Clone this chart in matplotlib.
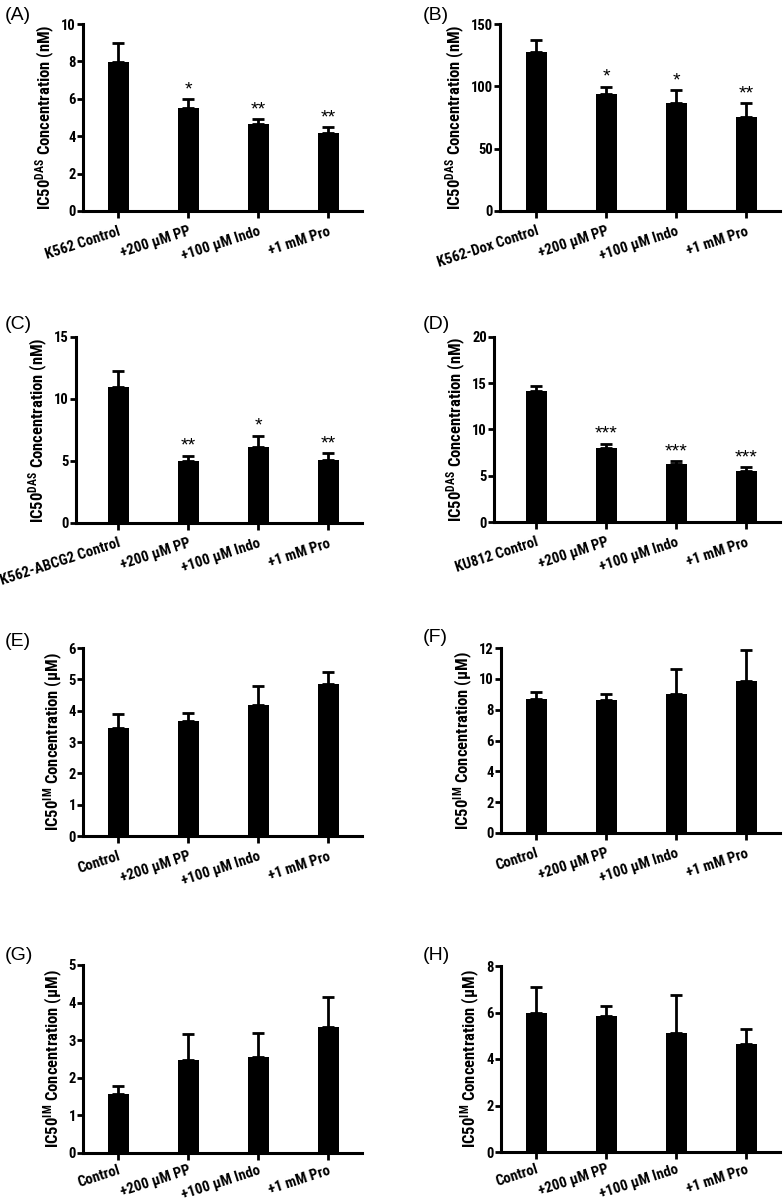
import matplotlib
matplotlib.use("Agg")
import matplotlib.pyplot as plt
from matplotlib import font_manager

# ---- data ----
labels_A = ["K562 Control", "+200 \u00b5M PP", "+100 \u00b5M Indo", "+1 mM Pro"]
labels_B = ["K562-Dox Control", "+200 \u00b5M PP", "+100 \u00b5M Indo", "+1 mM Pro"]
labels_C = ["K562-ABCG2 Control", "+200 \u00b5M PP", "+100 \u00b5M Indo", "+1 mM Pro"]
labels_D = ["KU812 Control", "+200 \u00b5M PP", "+100 \u00b5M Indo", "+1 mM Pro"]
labels_IM = ["Control", "+200 \u00b5M PP", "+100 \u00b5M Indo", "+1 mM Pro"]

vals_A = [7.98, 5.52, 4.65, 4.17]
err_A = [0.98, 0.46, 0.28, 0.33]
stars_A = ["", "*", "**", "**"]

vals_B = [127.8, 93.8, 86.9, 75.1]
err_B = [9.5, 6.0, 9.9, 11.3]
stars_B = ["", "*", "*", "**"]

vals_C = [10.98, 4.98, 6.16, 5.09]
err_C = [1.26, 0.46, 0.89, 0.56]
stars_C = ["", "**", "*", "**"]

vals_D = [14.15, 8.0, 6.32, 5.46]
err_D = [0.54, 0.47, 0.25, 0.5]
stars_D = ["", "***", "***", "***"]

vals_E = [3.44, 3.66, 4.17, 4.86]
err_E = [0.46, 0.27, 0.62, 0.37]

vals_F = [8.66, 8.6, 9.03, 9.87]
err_F = [0.47, 0.43, 1.59, 2.02]

vals_G = [1.56, 2.47, 2.55, 3.34]
err_G = [0.21, 0.70, 0.64, 0.81]

vals_H = [6.0, 5.86, 5.11, 4.63]
err_H = [1.1, 0.4, 1.66, 0.68]

# ---- font choice: a condensed bold sans ----
available = set(f.name for f in font_manager.fontManager.ttflist)
prefs = ['Roboto Condensed', 'Fira Sans Condensed', 'Asap Condensed',
         'Barlow Semi Condensed', 'Liberation Sans']
COND = next((p for p in prefs if p in available), 'DejaVu Sans')
narrow = COND != 'Liberation Sans'
FS_TICK = 10.5 if narrow else 9
FS_X = 10.7 if narrow else 9
FS_LAB = 12 if narrow else 10

plt.rcParams['font.family'] = [COND, 'DejaVu Sans']
plt.rcParams['mathtext.fontset'] = 'custom'
plt.rcParams['mathtext.rm'] = COND + ':bold'
plt.rcParams['mathtext.bf'] = COND + ':bold'
plt.rcParams['mathtext.it'] = COND + ':bold'

ylab_DAS = "IC50$^{\\rm DAS}$ Concentration (nM)"
ylab_IM = "IC50$^{\\rm IM}$ Concentration (\u00b5M)"

W, H = 783, 1199
fig = plt.figure(figsize=(W / 100, H / 100), dpi=100)

panels = [
    ("(A)", labels_A, vals_A, err_A, stars_A, ylab_DAS, 10, 2, (83, 362, 24, 211), (5, 16)),
    ("(B)", labels_B, vals_B, err_B, stars_B, ylab_DAS, 150, 50, (500, 780, 24, 211), (423, 16)),
    ("(C)", labels_C, vals_C, err_C, stars_C, ylab_DAS, 15, 5, (76, 362, 337, 523), (5, 324)),
    ("(D)", labels_D, vals_D, err_D, stars_D, ylab_DAS, 20, 5, (494, 780, 337, 522), (423, 324)),
    ("(E)", labels_IM, vals_E, err_E, None, ylab_IM, 6, 1, (83, 362, 648, 836), (5, 641)),
    ("(F)", labels_IM, vals_F, err_F, None, ylab_IM, 12, 2, (501, 780, 648, 833), (423, 638)),
    ("(G)", labels_IM, vals_G, err_G, None, ylab_IM, 5, 1, (83, 362, 965, 1153), (5, 955)),
    ("(H)", labels_IM, vals_H, err_H, None, ylab_IM, 8, 2, (501, 780, 966, 1152), (423, 955)),
]

for letter, labels, vals, err, stars, ylabel, ymax, ystep, box, lpos in panels:
    l, r, t, b = box
    ax = fig.add_axes([l / W, 1 - b / H, (r - l) / W, (b - t) / H])
    x = list(range(len(vals)))
    c0 = 118 if l < 390 else 536
    x0 = -(c0 - l) / 70.0
    ax.set_xlim(x0, x0 + (r - l) / 70.0)
    ax.set_ylim(0, ymax)
    ax.bar(x, vals, width=0.3, color='black', zorder=3)
    ax.errorbar(x, vals, yerr=[[0] * len(vals), err], fmt='none', ecolor='black',
                elinewidth=2.0, capsize=4.5, capthick=2.0, zorder=2)
    if stars:
        for xi, v, e, s in zip(x, vals, err, stars):
            if s:
                ax.annotate(s, (xi, v + e), xytext=(0, 0.5), textcoords='offset points',
                            ha='center', va='bottom', fontsize=14,
                            family=['Liberation Sans', 'DejaVu Sans'])
    n = int(round(ymax / ystep)) + 1
    ax.set_yticks([ystep * k for k in range(n)])
    ax.set_yticklabels([str(ystep * k) for k in range(n)], fontsize=FS_TICK, fontweight='bold')
    ax.set_xticks(x)
    ax.set_xticklabels(labels, rotation=18, ha='right', rotation_mode='anchor',
                       fontsize=FS_X, fontweight='bold')
    ax.tick_params(axis='y', length=4, width=2, pad=1, direction='out')
    ax.tick_params(axis='x', length=5, width=2, pad=(2.5 if b > 1100 else 4.5),
                   direction='out')
    for sp in ['top', 'right']:
        ax.spines[sp].set_visible(False)
    for sp in ['left', 'bottom']:
        ax.spines[sp].set_linewidth(2.2)
    ax.set_ylabel(ylabel, fontsize=FS_LAB, fontweight='bold', labelpad=3)
    fig.text(lpos[0] / W, 1 - lpos[1] / H, letter, fontsize=14, ha='left', va='center',
             family=['Liberation Sans', 'DejaVu Sans'])

fig.savefig("out.png", dpi=100)
